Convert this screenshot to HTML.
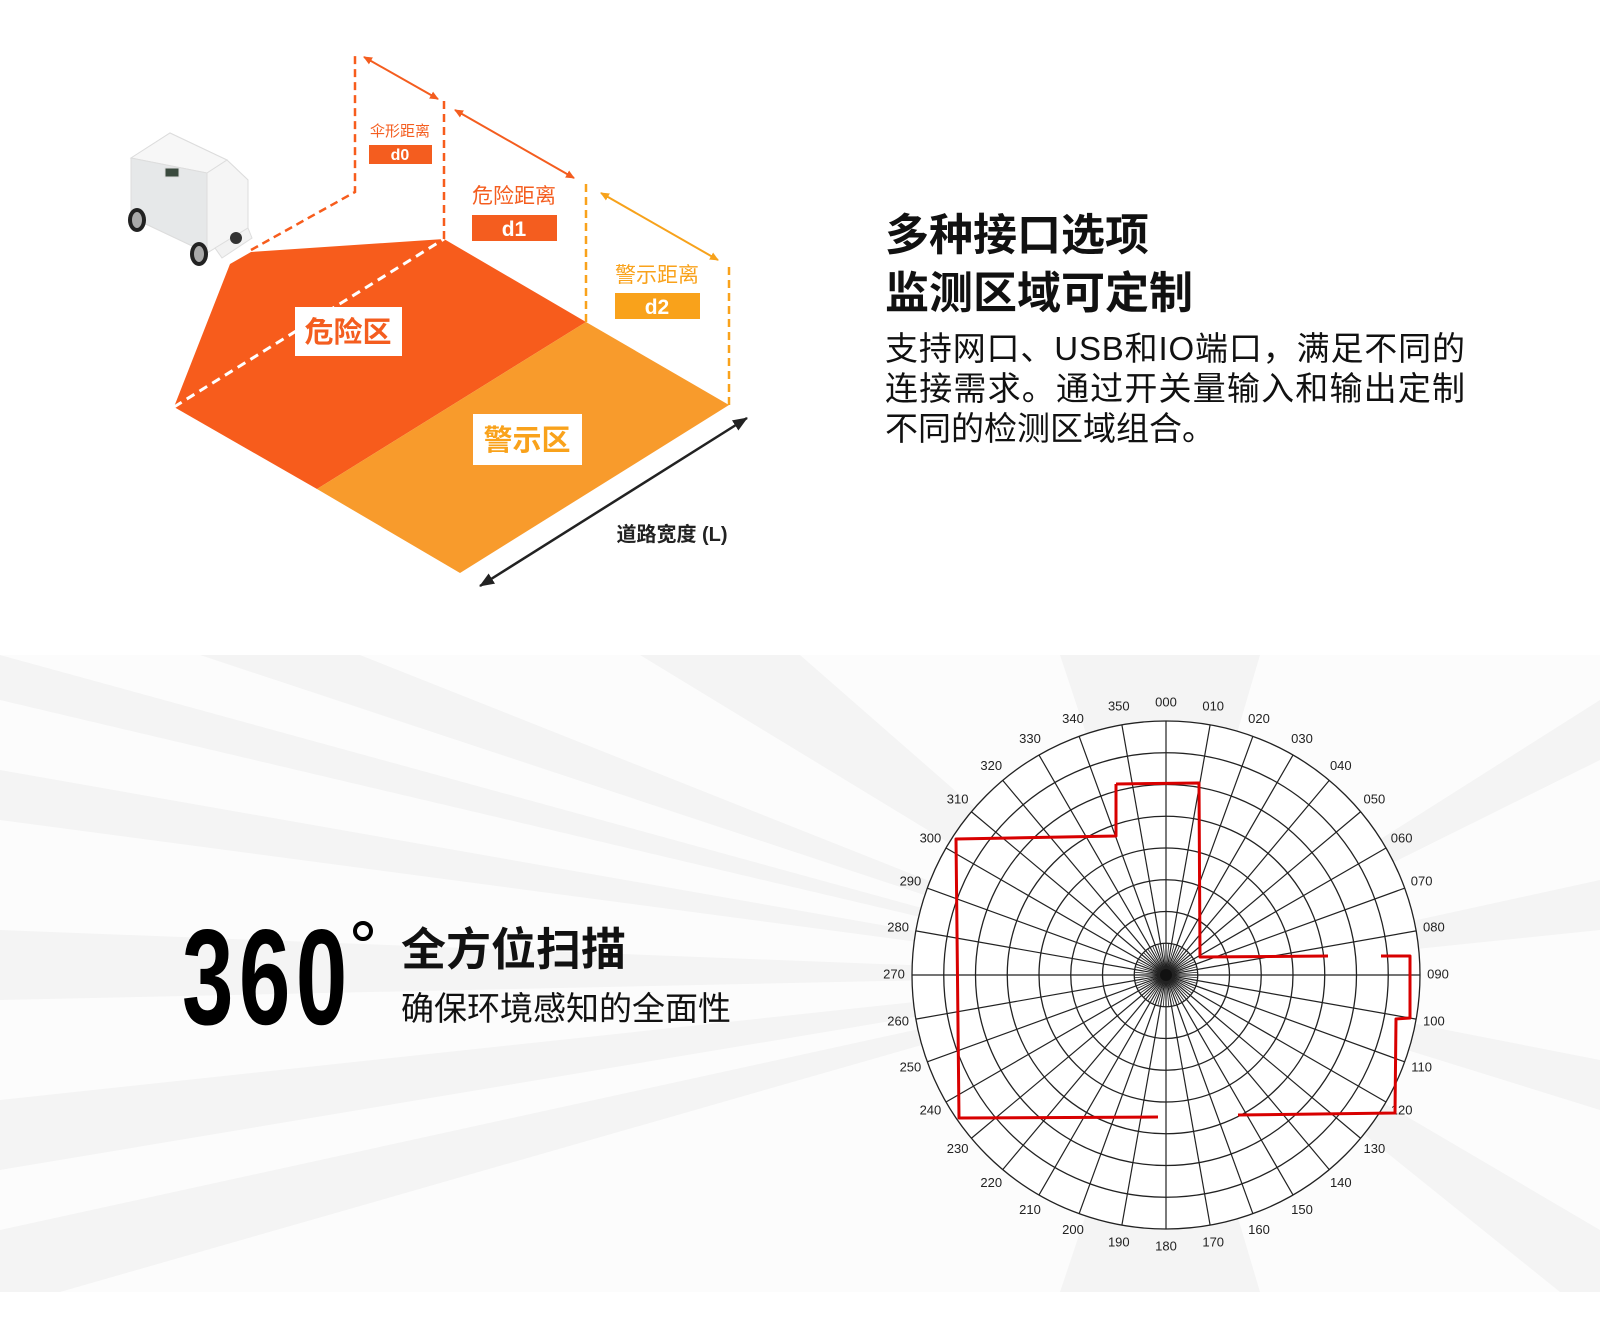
<!DOCTYPE html>
<html><head><meta charset="utf-8"><style>
html,body{margin:0;padding:0;background:#fff}
svg{display:block}
text{font-family:"Liberation Sans","Noto Sans CJK SC",sans-serif}
</style></head><body>
<svg width="1600" height="1324" viewBox="0 0 1600 1324" xmlns="http://www.w3.org/2000/svg">
<defs>
<clipPath id="band"><rect x="0" y="655" width="1600" height="637"/></clipPath>
<marker id="ao" markerWidth="10" markerHeight="10" refX="8" refY="5" orient="auto-start-reverse" markerUnits="userSpaceOnUse"><path d="M0,1 L9,5 L0,9 z" fill="#f45d1f"/></marker>
<marker id="ay" markerWidth="10" markerHeight="10" refX="8" refY="5" orient="auto-start-reverse" markerUnits="userSpaceOnUse"><path d="M0,1 L9,5 L0,9 z" fill="#f7a21b"/></marker>
<marker id="ak" markerWidth="16" markerHeight="14" refX="14" refY="7" orient="auto-start-reverse" markerUnits="userSpaceOnUse"><path d="M0,1 L15,7 L0,13 z" fill="#222"/></marker>
</defs>

<g clip-path="url(#band)" fill="#f4f4f4">
<rect x="0" y="655" width="1600" height="637" fill="#fcfcfc"/>
<polygon points="1166,975 0,655 0,700 "/>
<polygon points="1166,975 360,655 200,655"/>
<polygon points="1166,975 1060,655 1260,655"/>
<polygon points="1166,975 1600,700 1600,760"/>
<polygon points="1166,975 1600,880 1600,930"/>
<polygon points="1166,975 1600,1060 1600,1110"/>
<polygon points="1166,975 1600,1230 1600,1292 1560,1292"/>
<polygon points="1166,975 1060,1292 1260,1292"/>
<polygon points="1166,975 0,1230 0,1292 60,1292"/>
<polygon points="1166,975 0,1100 0,1170"/>
<polygon points="1166,975 0,930 0,1000"/>
<polygon points="1166,975 0,770 0,820"/>
<polygon points="1166,975 640,655 800,655"/>
</g>

<g transform="translate(1166,975)">
<circle r="254" fill="#fff"/>
<g fill="none" stroke="#222" stroke-width="1.3">
<circle r="31.75"/><circle r="63.5"/><circle r="95.25"/><circle r="127"/><circle r="158.75"/><circle r="190.5"/><circle r="222.25"/><circle r="254"/>
</g>
<g stroke="#222" stroke-width="1.2" id="spokes"></g>
<circle r="6" fill="#111"/>
<g font-size="13" fill="#222" text-anchor="middle" dominant-baseline="middle" id="plabels"></g>
</g>
<g fill="none" stroke="#d80000" stroke-width="3" stroke-linejoin="round">
<polyline points="1116,784 1199,783 1200,957 1328,956"/>
<polyline points="1116,784 1116,836 956,839 959,1118 1158,1117"/>
<polyline points="1381,956 1410,956 1410,1018 1396,1019 1395,1113 1238,1115"/>
</g>

<polygon points="251,252 444,239 586,322 317,489 174,407 230,264" fill="#f75c1c"/>
<polygon points="586,322 729,405 460,573 317,489" fill="#f89b2c"/>
<line x1="174" y1="407" x2="444" y2="239" stroke="#fff" stroke-width="3" stroke-dasharray="9,6"/>
<g stroke="#f75c1c" stroke-width="2.5" stroke-dasharray="8,5" fill="none">
<polyline points="251,250 355,192 355,52"/>
<line x1="444" y1="239" x2="444" y2="98"/>
</g>
<g stroke="#f9a21b" stroke-width="2.5" stroke-dasharray="8,5" fill="none">
<line x1="586" y1="322" x2="586" y2="180"/>
<line x1="729" y1="405" x2="729" y2="262"/>
</g>
<line x1="364" y1="57" x2="438" y2="99" stroke="#f45d1f" stroke-width="2" marker-start="url(#ao)" marker-end="url(#ao)"/>
<line x1="455" y1="110" x2="574" y2="178" stroke="#f45d1f" stroke-width="2" marker-start="url(#ao)" marker-end="url(#ao)"/>
<line x1="601" y1="193" x2="718" y2="260" stroke="#f7a21b" stroke-width="2" marker-start="url(#ay)" marker-end="url(#ay)"/>
<line x1="747" y1="418" x2="480" y2="586" stroke="#222" stroke-width="2.5" marker-start="url(#ak)" marker-end="url(#ak)"/>

<g stroke="#ddd" stroke-width="1">
<polygon points="131,158 170,133 227,160 248,180 248,228 207,253 131,217" fill="#eef0f0"/>
<polygon points="131,158 170,133 227,160 207,173" fill="#f7f7f7"/>
<polygon points="131,158 207,173 207,253 131,217" fill="#e6e8e9"/>
<polygon points="207,173 227,160 248,180 248,228 207,253" fill="#f5f5f5"/>
<polygon points="215,248 248,228 252,238 222,258" fill="#f2f2f2"/>
<rect x="165" y="168" width="14" height="9" fill="#3a4a3e"/>
</g>
<circle cx="236" cy="238" r="6" fill="#333"/>
<ellipse cx="137" cy="220" rx="9" ry="12" fill="#222"/><ellipse cx="137" cy="220" rx="5" ry="8" fill="#aaa"/>
<ellipse cx="199" cy="254" rx="9" ry="12" fill="#222"/><ellipse cx="199" cy="254" rx="5" ry="8" fill="#aaa"/>

<text x="400" y="136" font-size="15" fill="#f45d1f" text-anchor="middle">伞形距离</text>
<rect x="369" y="145" width="63" height="19" fill="#f45d1f"/>
<text x="400" y="160" font-size="16" fill="#fff" text-anchor="middle" font-weight="bold">d0</text>
<text x="514" y="203" font-size="21" fill="#f45d1f" text-anchor="middle">危险距离</text>
<rect x="472" y="215" width="85" height="26" fill="#f45d1f"/>
<text x="514" y="236" font-size="21" fill="#fff" text-anchor="middle" font-weight="bold">d1</text>
<text x="657" y="282" font-size="21" fill="#f9a21b" text-anchor="middle">警示距离</text>
<rect x="615" y="293" width="85" height="26" fill="#f9a21b"/>
<text x="657" y="314" font-size="21" fill="#fff" text-anchor="middle" font-weight="bold">d2</text>
<rect x="295" y="307" width="107" height="49" fill="#fff"/>
<text x="348" y="342" font-size="29" fill="#f45d1f" text-anchor="middle" font-weight="bold">危险区</text>
<rect x="473" y="414" width="109" height="51" fill="#fff"/>
<text x="527" y="450" font-size="29" fill="#f9a21b" text-anchor="middle" font-weight="bold">警示区</text>
<text x="672" y="541" font-size="20" fill="#222" text-anchor="middle" font-weight="bold">道路宽度 (L)</text>

<text x="885" y="250" font-size="44" font-weight="bold" fill="#111">多种接口选项</text>
<text x="885" y="308" font-size="44" font-weight="bold" fill="#111">监测区域可定制</text>
<text x="885" y="360" font-size="33" fill="#111" textLength="580">支持网口、USB和IO端口，满足不同的</text>
<text x="885" y="400" font-size="33" fill="#111" textLength="580">连接需求。通过开关量输入和输出定制</text>
<text x="885" y="440" font-size="33" fill="#111">不同的检测区域组合。</text>

<text x="182" y="1024" font-size="136" font-weight="bold" fill="#000" transform="translate(182 0) scale(0.68 1) translate(-182 0)" textLength="243">360</text>
<circle cx="363" cy="931" r="8" fill="none" stroke="#000" stroke-width="4"/>
<text x="401" y="965" font-size="45" font-weight="bold" fill="#111">全方位扫描</text>
<text x="401" y="1020" font-size="33" fill="#111">确保环境感知的全面性</text>
</svg>
<script>
var sp=document.getElementById('spokes'),pl=document.getElementById('plabels'),ns='http://www.w3.org/2000/svg';
for(var a=0;a<360;a+=10){var r=a*Math.PI/180,l=document.createElementNS(ns,'line');
l.setAttribute('x1',0);l.setAttribute('y1',0);l.setAttribute('x2',254*Math.sin(r));l.setAttribute('y2',-254*Math.cos(r));sp.appendChild(l);
var t=document.createElementNS(ns,'text');t.setAttribute('x',(272*Math.sin(r)).toFixed(1));t.setAttribute('y',(-272*Math.cos(r)).toFixed(1));
t.textContent=(a<100?(a<10?'00':'0'):'')+a;pl.appendChild(t);}
for(var a=5;a<360;a+=10){var r=a*Math.PI/180,l=document.createElementNS(ns,'line');
l.setAttribute('x1',0);l.setAttribute('y1',0);l.setAttribute('x2',31.75*Math.sin(r));l.setAttribute('y2',-31.75*Math.cos(r));l.setAttribute('stroke-width','0.8');sp.appendChild(l);}
</script>
</body></html>
